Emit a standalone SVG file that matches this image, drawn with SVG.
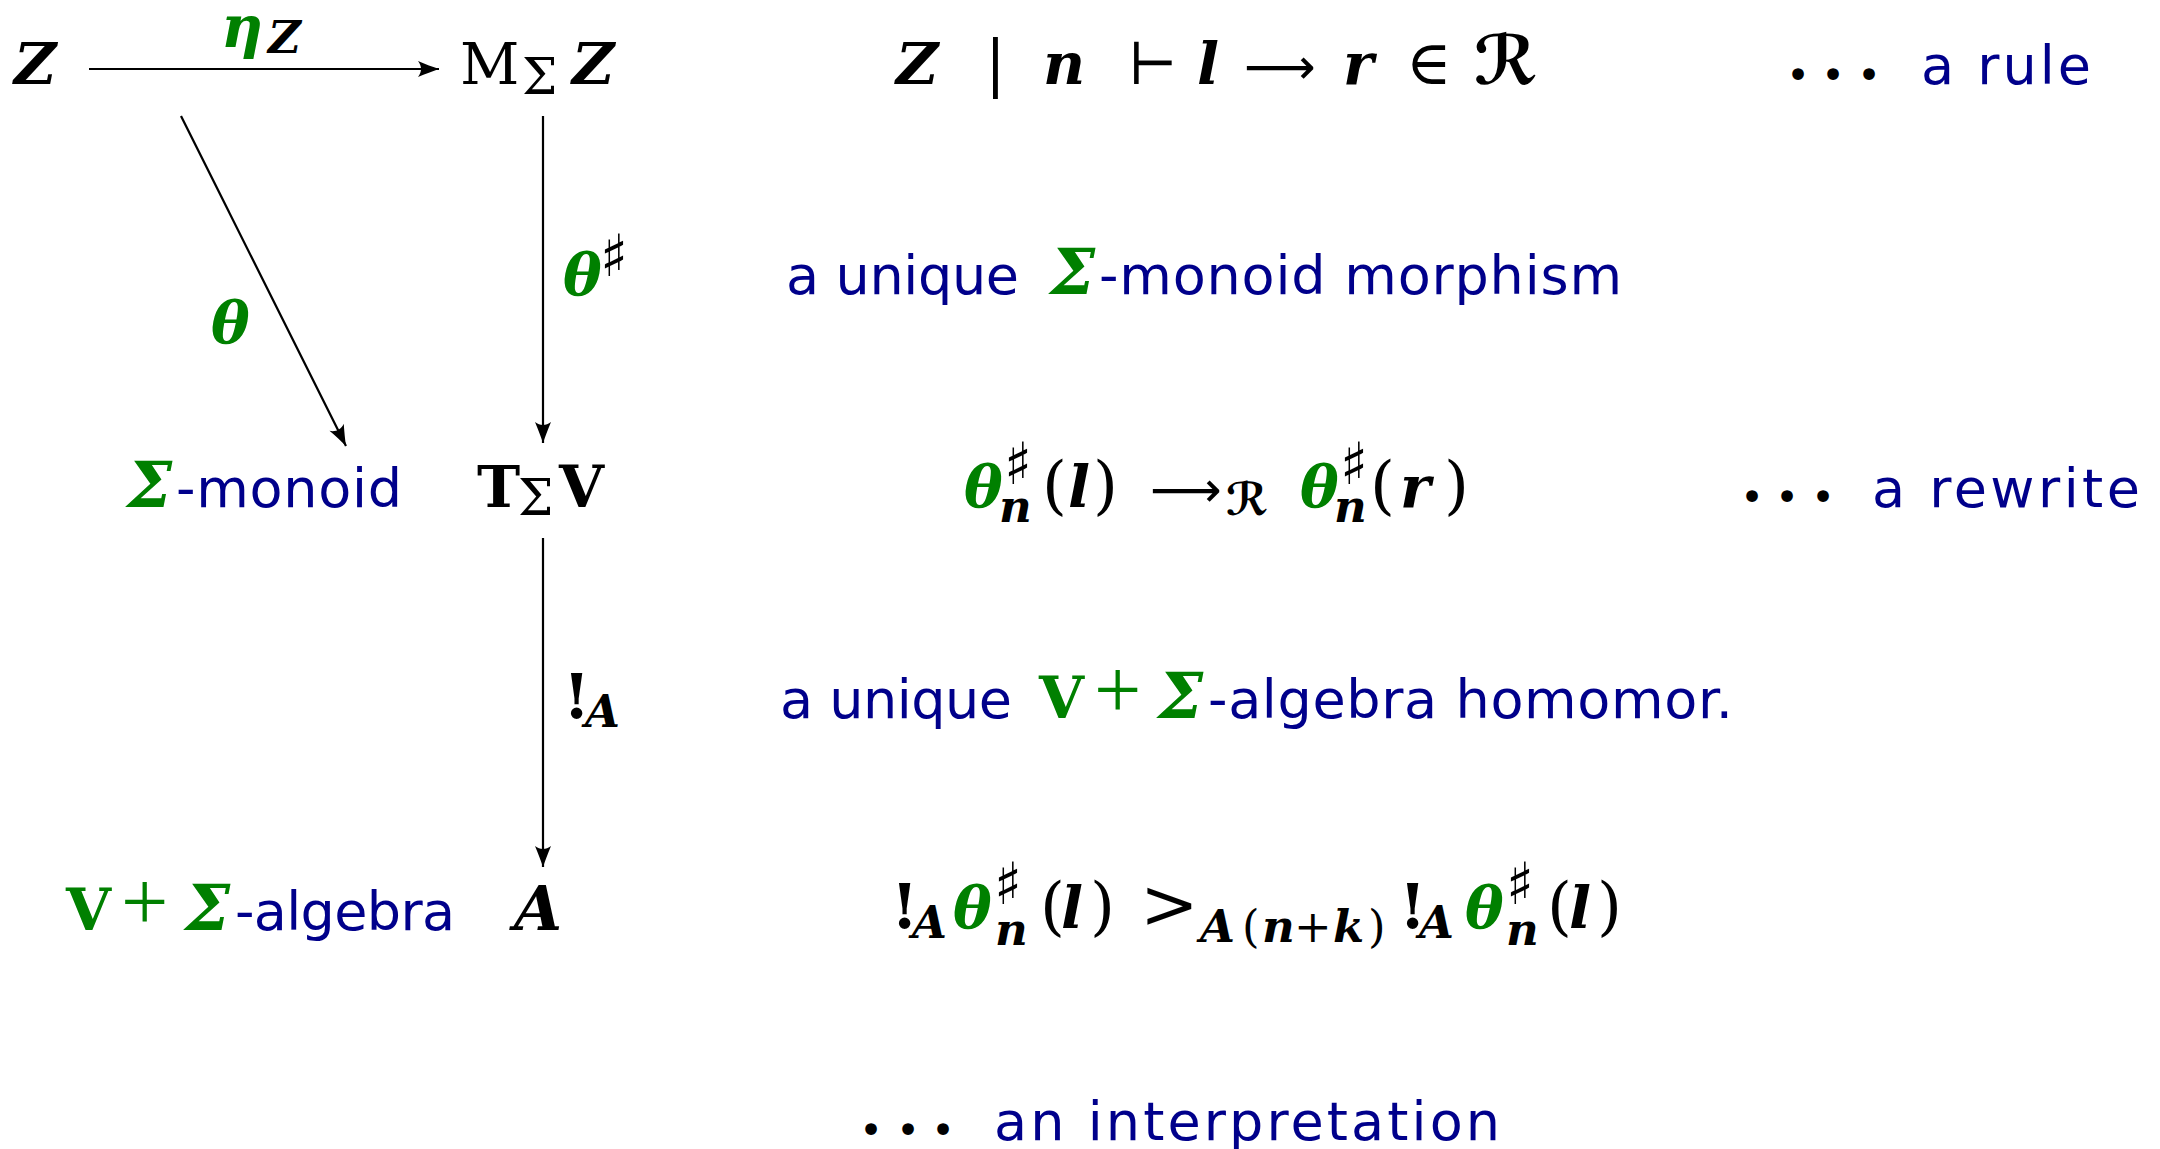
<svg xmlns="http://www.w3.org/2000/svg" width="2160" height="1149" viewBox="0 0 2160 1149">
<defs>
<style>
.m{font-family:"DejaVu Serif","Liberation Serif",serif;font-size:58px;font-style:italic;font-weight:bold;fill:#000}
.up{font-style:normal}
.rg{font-weight:normal}
.sub{font-size:45px}
.sig{font-size:64px}
.ssig{font-size:50px}
.par{font-size:64px}
.g{fill:#008000}
.t{font-family:"DejaVu Sans",sans-serif;font-size:54px;fill:#00008b}
.sh{font-family:"DejaVu Sans",sans-serif;font-style:normal;font-weight:normal;font-size:58px}
.ar{font-family:"DejaVu Sans",sans-serif;font-style:normal;font-weight:normal;font-size:50px}
.pl{font-family:"Liberation Serif",serif;font-style:normal;font-weight:normal;font-size:84px}
.cal{font-family:"DejaVu Sans",sans-serif;font-style:normal}
.dot{font-family:"DejaVu Sans",sans-serif;font-size:40px;fill:#000;text-anchor:middle}
.ln{stroke:#000;stroke-width:2.2;fill:none}
</style>
<marker id="ah" viewBox="0 0 24 20" markerWidth="24" markerHeight="20" refX="23" refY="10" orient="auto" markerUnits="userSpaceOnUse">
<path d="M23,10 C17,8 9,5 2,2 C6,7 6,13 2,18 C9,15 17,12 23,10 Z" fill="#000"/>
</marker>
</defs>
<rect width="2160" height="1149" fill="#fff"/>

<g id="connectors">
<line class="ln" x1="89" y1="69" x2="439" y2="69" marker-end="url(#ah)"/>
<line class="ln" x1="181" y1="116" x2="346" y2="446" marker-end="url(#ah)"/>
<line class="ln" x1="543" y1="116" x2="543" y2="443" marker-end="url(#ah)"/>
<line class="ln" x1="543" y1="538" x2="543" y2="867" marker-end="url(#ah)"/>
</g>

<g id="node-Z"><text class="m" x="14" y="84">Z</text></g>
<g id="node-MZ"><text class="m" y="84"><tspan class="up rg" x="460">M</tspan><tspan class="up rg ssig" x="522" y="94">Σ</tspan><tspan x="572" y="84">Z</tspan></text></g>
<g id="node-monoid"><text x="127" y="507"><tspan class="m g sig">Σ</tspan><tspan class="t" x="176" textLength="226" lengthAdjust="spacing">-monoid</tspan></text></g>
<g id="node-TV"><text class="m up" y="507"><tspan x="477">T</tspan><tspan class="rg ssig" x="518" y="515">Σ</tspan><tspan x="559" y="507">V</tspan></text></g>
<g id="node-algebra"><text y="930"><tspan class="m up g" x="66">V</tspan><tspan class="pl g" x="121">+</tspan><tspan class="m g sig" x="185">Σ</tspan><tspan class="t" x="235" textLength="220" lengthAdjust="spacing">-algebra</tspan></text></g>
<g id="node-A"><text class="m" x="514" y="930" style="font-size:62px">A</text></g>

<g id="edge-labels">
<text class="m" y="47"><tspan class="g" x="221">η</tspan><tspan class="sub" x="268" y="53">Z</tspan></text>
<text class="m g" x="211" y="343">θ</text>
<text class="m" y="295"><tspan class="g" x="563">θ</tspan><tspan class="sh" x="600" y="276">♯</tspan></text>
<text class="m" y="718"><tspan class="up" x="563" style="font-size:62px">!</tspan><tspan class="sub" x="585" y="727">A</tspan></text>
</g>

<g id="row-rule">
<text class="m" y="84"><tspan x="896">Z</tspan><tspan class="up rg" x="985" style="font-size:62px">|</tspan><tspan x="1043">n</tspan><tspan class="up rg" x="1128">⊢</tspan><tspan x="1197">l</tspan><tspan class="ar" x="1244">⟶</tspan><tspan x="1343">r</tspan><tspan class="up rg" x="1406" style="font-size:62px">∈</tspan><tspan class="cal" x="1474" style="font-size:68px">ℛ</tspan></text>
<text class="dot" y="89"><tspan x="1798">•</tspan><tspan x="1833">•</tspan><tspan x="1869">•</tspan></text>
<text class="t" x="1921" y="84" textLength="170" lengthAdjust="spacing">a rule</text>
</g>

<g id="row-morphism">
<text class="t" x="786" y="294" textLength="233" lengthAdjust="spacing">a unique</text>
<text class="m g sig" x="1050" y="294">Σ</text>
<text class="t" x="1099" y="294" textLength="523" lengthAdjust="spacing">-monoid morphism</text>
</g>

<g id="row-rewrite">
<text class="m" y="507"><tspan class="g" x="964">θ</tspan><tspan class="sh" x="1004" y="484">♯</tspan><tspan class="sub" x="999" y="522">n</tspan><tspan class="up rg par" x="1042" y="507">(</tspan><tspan x="1068">l</tspan><tspan class="up rg par" x="1093">)</tspan><tspan class="ar" x="1150">⟶</tspan><tspan class="cal sub" x="1226" y="515">ℛ</tspan><tspan class="g" x="1300" y="507">θ</tspan><tspan class="sh" x="1340" y="484">♯</tspan><tspan class="sub" x="1334" y="522">n</tspan><tspan class="up rg par" x="1370" y="507">(</tspan><tspan x="1400">r</tspan><tspan class="up rg par" x="1444">)</tspan></text>
<text class="dot" y="511"><tspan x="1752">•</tspan><tspan x="1787">•</tspan><tspan x="1823">•</tspan></text>
<text class="t" x="1872" y="507" textLength="268" lengthAdjust="spacing">a rewrite</text>
</g>

<g id="row-homomorphism">
<text class="t" x="780" y="718" textLength="232" lengthAdjust="spacing">a unique</text>
<text y="718"><tspan class="m up g" x="1039">V</tspan><tspan class="pl g" x="1094">+</tspan><tspan class="m g sig" x="1158">Σ</tspan></text>
<text class="t" x="1208" y="718" textLength="525" lengthAdjust="spacing">-algebra homomor.</text>
</g>

<g id="row-interpretation">
<text class="m" y="928"><tspan class="up" x="891" style="font-size:62px">!</tspan><tspan class="sub" x="912" y="938">A</tspan><tspan class="g" x="953" y="928">θ</tspan><tspan class="sh" x="994" y="904">♯</tspan><tspan class="sub" x="995" y="945">n</tspan><tspan class="up rg par" x="1040" y="928">(</tspan><tspan x="1061">l</tspan><tspan class="up rg par" x="1090">)</tspan><tspan class="up rg" x="1140" style="font-size:70px">&gt;</tspan><tspan class="sub" x="1200" y="942">A</tspan><tspan class="up rg sub" x="1242">(</tspan><tspan class="sub" x="1262">n</tspan><tspan class="up rg sub" x="1294">+</tspan><tspan class="sub" x="1333">k</tspan><tspan class="up rg sub" x="1368">)</tspan><tspan class="up" x="1399" y="928" style="font-size:62px">!</tspan><tspan class="sub" x="1419" y="938">A</tspan><tspan class="g" x="1465" y="928">θ</tspan><tspan class="sh" x="1506" y="904">♯</tspan><tspan class="sub" x="1506" y="945">n</tspan><tspan class="up rg par" x="1547" y="928">(</tspan><tspan x="1569">l</tspan><tspan class="up rg par" x="1597">)</tspan></text>
<text class="dot" y="1144"><tspan x="871">•</tspan><tspan x="908">•</tspan><tspan x="943">•</tspan></text>
<text class="t" x="994" y="1140" textLength="506" lengthAdjust="spacing">an interpretation</text>
</g>
</svg>
